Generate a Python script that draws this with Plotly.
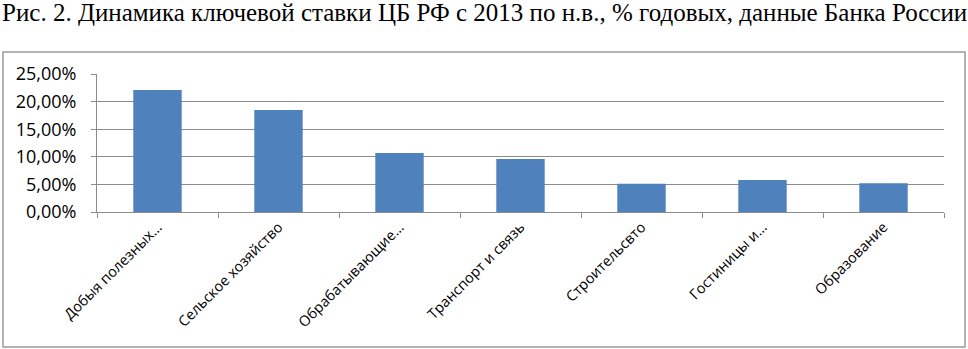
import plotly.graph_objects as go

categories = ["Добыя полезных…", "Сельское хозяйство", "Обрабатывающие…", "Транспорт и связь",
              "Строительсвто", "Гостиницы и…", "Образование"]
values = [0.221, 0.185, 0.107, 0.096, 0.051, 0.058, 0.052]
y_ticks = [0, 0.05, 0.10, 0.15, 0.20, 0.25]
title_text = "Рис. 2. Динамика ключевой ставки ЦБ РФ с 2013 по н.в., % годовых, данные Банка России"

W, H = 968, 349
L, R, T, B = 97, 944, 74, 212  # plot area in pixels
pw, ph = R - L, B - T

def px(x):
    return (x - L) / pw

def py(y):
    return (B - y) / ph

grid = "#8c8c8c"

fig = go.Figure(go.Bar(
    x=categories, y=values, marker=dict(color="#4f81bd", line=dict(width=0)),
    width=0.4,
))

fig.update_layout(
    width=W, height=H,
    margin=dict(l=L, r=W - R, t=T, b=H - B, pad=0, autoexpand=False),
    paper_bgcolor="white", plot_bgcolor="white",
    separators=", ",
    showlegend=False,
    font=dict(family="Open Sans", color="#000000"),
    xaxis=dict(
        range=[-0.5, 6.5], tickangle=-45, showline=True, linecolor=grid, linewidth=1,
        ticks="outside", tickson="boundaries", ticklen=5, tickcolor=grid,
        tickfont=dict(size=14.5, family="Open Sans"), showgrid=False, automargin=False,
    ),
    yaxis=dict(
        range=[0, 0.25], tickvals=y_ticks, tickformat=".2%", showline=True,
        linecolor=grid, linewidth=1, ticks="outside", ticklen=5, tickcolor=grid,
        gridcolor=grid, gridwidth=1, tickfont=dict(size=18, family="Open Sans"),
        zeroline=False, ticklabelstandoff=11, automargin=False,
    ),
    shapes=[dict(type="rect", xref="paper", yref="paper",
                 x0=px(3), x1=px(965), y0=py(347), y1=py(52),
                 line=dict(color="#9a9a9a", width=1.5), layer="below")],
    annotations=[dict(text=title_text, xref="paper", yref="paper",
                      x=px(484), y=py(12), xanchor="center", yanchor="middle",
                      showarrow=False,
                      font=dict(family="Liberation Serif", size=25, color="#000000"))],
)

fig.write_html("out.html", config={"displayModeBar": False},
               post_script="document.body.style.margin='0px';document.body.style.overflow='hidden';")
